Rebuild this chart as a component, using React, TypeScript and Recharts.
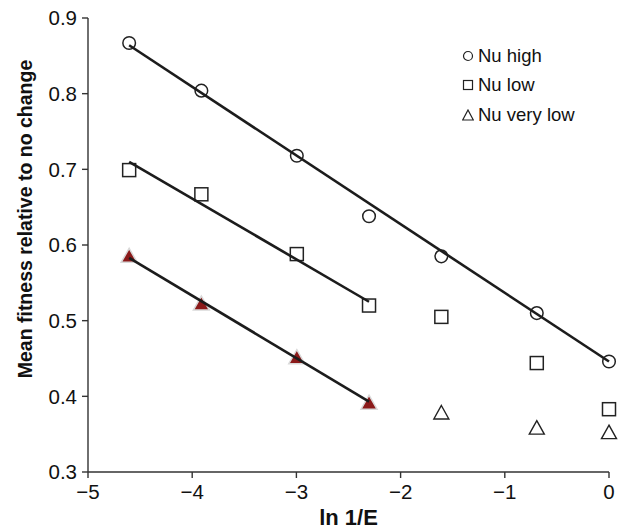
import { ScatterChart, Scatter, XAxis, YAxis, Legend } from 'recharts'

// x values: ln(1/E) for E = 100, 50, 20, 10, 5, 2, 1
const lnInvE = [-4.605, -3.912, -2.996, -2.303, -1.609, -0.693, 0]
const nuHigh = [0.867, 0.804, 0.718, 0.638, 0.585, 0.51, 0.446]
const nuLow = [0.699, 0.667, 0.588, 0.52, 0.505, 0.444, 0.383]
const nuVeryLow = [0.585, 0.522, 0.451, 0.391, 0.378, 0.358, 0.352]
// first four "very low" points are the filled ones
const filledCount = 4

// fitted regression segments (end points)
const fitHighX = [-4.605, 0]
const fitHighY = [0.864, 0.446]
const fitLowX = [-4.605, -2.303]
const fitLowY = [0.71, 0.525]
const fitVeryLowX = [-4.605, -2.303]
const fitVeryLowY = [0.583, 0.393]

const xTicks = [-5, -4, -3, -2, -1, 0]
const yTicks = [0.3, 0.4, 0.5, 0.6, 0.7, 0.8, 0.9]

const legendItems = [
  { name: 'Nu high', marker: 'circle' },
  { name: 'Nu low', marker: 'square' },
  { name: 'Nu very low', marker: 'triangle' },
]

const toPoints = (xs: number[], ys: number[]) => xs.map((x, i) => ({ x, y: ys[i] }))

const highData = toPoints(lnInvE, nuHigh)
const lowData = toPoints(lnInvE, nuLow)
const veryLowAll = toPoints(lnInvE, nuVeryLow)
const veryLowFilled = veryLowAll.slice(0, filledCount)
const veryLowOpen = veryLowAll.slice(filledCount)

const FONT = '"Liberation Sans", Arial, sans-serif'
const INK = '#222'
const AXIS = '#333'

const CircleMark = ({ cx, cy }: any) => (
  <circle cx={cx} cy={cy} r={6.3} fill="none" stroke={INK} strokeWidth={1.5} />
)

const SquareMark = ({ cx, cy }: any) => (
  <rect x={cx - 6.5} y={cy - 6.5} width={13} height={13} fill="none" stroke={INK} strokeWidth={1.5} />
)

const OpenTriangle = ({ cx, cy }: any) => (
  <path
    d={`M${cx},${cy - 7.5} L${cx + 7.5},${cy + 6} L${cx - 7.5},${cy + 6} Z`}
    fill="none"
    stroke={INK}
    strokeWidth={1.4}
  />
)

const FilledTriangle = ({ cx, cy }: any) => (
  <path
    d={`M${cx},${cy - 8} L${cx + 8},${cy + 6} L${cx - 8},${cy + 6} Z`}
    fill="#8b1a1a"
    stroke="#d9d9d9"
    strokeWidth={1.5}
  />
)

const NoMark = () => <g />

function LegendMarker({ type }: { type: string }) {
  return (
    <svg width={12} height={12} style={{ marginRight: 4 }}>
      {type === 'circle' && <circle cx={6} cy={6} r={4.5} fill="none" stroke={INK} strokeWidth={1.2} />}
      {type === 'square' && <rect x={1.5} y={1.5} width={9} height={9} fill="none" stroke={INK} strokeWidth={1.2} />}
      {type === 'triangle' && <path d="M6,1 L11.3,11 L0.7,11 Z" fill="none" stroke={INK} strokeWidth={1.2} />}
    </svg>
  )
}

function renderLegend() {
  return (
    <div style={{ fontFamily: FONT, fontSize: 18.5, color: '#111' }}>
      {legendItems.map((item) => (
        <div key={item.name} style={{ display: 'flex', alignItems: 'center', height: 29.5 }}>
          <LegendMarker type={item.marker} />
          <span>{item.name}</span>
        </div>
      ))}
    </div>
  )
}

const YTitle = (props: any) => {
  const vb = props.viewBox
  const x = vb.x + 25
  const y = vb.y + vb.height / 2 - 26
  return (
    <text
      x={x}
      y={y}
      transform={`rotate(-90, ${x}, ${y})`}
      textAnchor="middle"
      dominantBaseline="central"
      fontFamily={FONT}
      fontSize={19.5}
      fontWeight="bold"
      fill="#111"
    >
      Mean fitness relative to no change
    </text>
  )
}

const fmtX = (v: number) => (v < 0 ? `\u2212${Math.abs(v)}` : `${v}`)
const fmtY = (v: number) => v.toFixed(1)

export default function App() {
  const tickStyle = { fontFamily: FONT, fontSize: 20.5, fill: '#111' }
  return (
    <div style={{ position: 'absolute', left: 0, top: 0, background: '#fff' }}>
      <ScatterChart width={624} height={530} margin={{ top: 18, right: 15, bottom: 0, left: 0 }}>
        <XAxis
          type="number"
          dataKey="x"
          domain={[-5, 0]}
          ticks={xTicks}
          tickFormatter={fmtX}
          height={58}
          tick={tickStyle}
          tickSize={6}
          tickMargin={6}
          axisLine={{ stroke: AXIS, strokeWidth: 1.4 }}
          tickLine={{ stroke: AXIS, strokeWidth: 1.4 }}
          label={{
            value: 'ln 1/E',
            position: 'insideBottom',
            offset: 5,
            style: { fontFamily: FONT, fontSize: 22, fontWeight: 'bold', fill: '#111' },
          }}
        />
        <YAxis
          type="number"
          dataKey="y"
          domain={[0.3, 0.9]}
          ticks={yTicks}
          tickFormatter={fmtY}
          width={88}
          tick={tickStyle}
          tickSize={6}
          tickMargin={5}
          axisLine={{ stroke: AXIS, strokeWidth: 1.4 }}
          tickLine={{ stroke: AXIS, strokeWidth: 1.4 }}
          label={{ content: YTitle }}
        />
        <Legend
          layout="vertical"
          verticalAlign="middle"
          align="center"
          content={renderLegend}
          wrapperStyle={{ top: 41, left: 462, width: 160 }}
        />
        <Scatter name="Nu high" data={highData} shape={CircleMark} isAnimationActive={false} />
        <Scatter name="Nu low" data={lowData} shape={SquareMark} isAnimationActive={false} />
        <Scatter name="Nu very low" data={veryLowOpen} shape={OpenTriangle} isAnimationActive={false} />
        <Scatter
          data={toPoints(fitHighX, fitHighY)}
          line={{ stroke: '#1c1c1c', strokeWidth: 2.6 }}
          shape={NoMark}
          legendType="none"
          isAnimationActive={false}
        />
        <Scatter
          data={toPoints(fitLowX, fitLowY)}
          line={{ stroke: '#1c1c1c', strokeWidth: 2.6 }}
          shape={NoMark}
          legendType="none"
          isAnimationActive={false}
        />
        <Scatter
          data={veryLowFilled}
          shape={FilledTriangle}
          legendType="none"
          isAnimationActive={false}
        />
        <Scatter
          data={toPoints(fitVeryLowX, fitVeryLowY)}
          line={{ stroke: '#1c1c1c', strokeWidth: 2.6 }}
          shape={NoMark}
          legendType="none"
          isAnimationActive={false}
        />
      </ScatterChart>
    </div>
  )
}
